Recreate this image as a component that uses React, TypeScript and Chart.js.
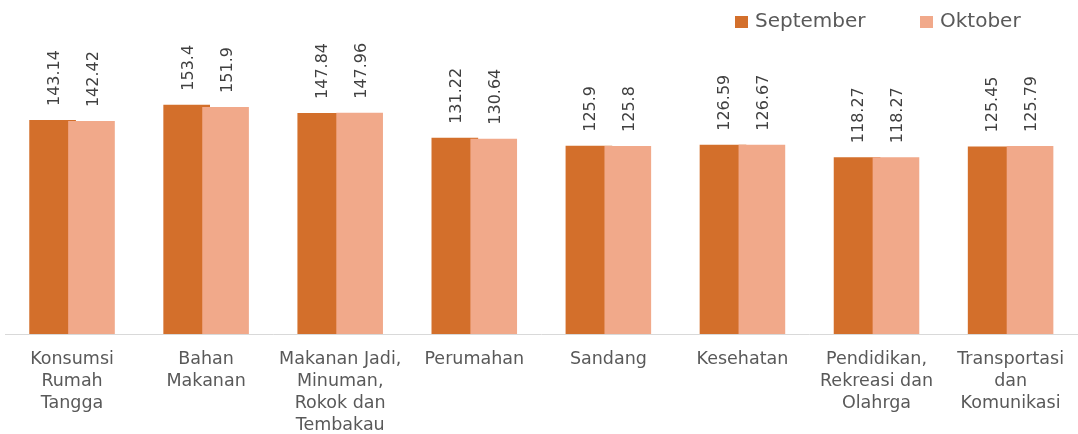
import React, { useEffect, useRef } from "react";
import { Chart, registerables } from "chart.js";

Chart.register(...registerables);

const categories: string[][] = [
  ["Konsumsi", "Rumah", "Tangga"],
  ["Bahan", "Makanan"],
  ["Makanan Jadi,", "Minuman,", "Rokok dan", "Tembakau"],
  ["Perumahan"],
  ["Sandang"],
  ["Kesehatan"],
  ["Pendidikan,", "Rekreasi dan", "Olahrga"],
  ["Transportasi", "dan", "Komunikasi"],
];
const september = [143.14, 153.4, 147.84, 131.22, 125.9, 126.59, 118.27, 125.45];
const oktober = [142.42, 151.9, 147.96, 130.64, 125.8, 126.67, 118.27, 125.79];
const seriesNames = ["September", "Oktober"];
const seriesColors = ["#D36F2B", "#F1A98A"];

const FONT = "'DejaVu Sans', sans-serif";

// draw the first series underneath the second one (Excel-like overlap)
const drawOrder = {
  id: "drawOrder",
  beforeDatasetsDraw(chart: any) {
    const meta = chart.getDatasetMeta(0);
    if (meta && meta.visible !== false) meta.controller.draw();
  },
  beforeDatasetDraw(chart: any, args: any) {
    if (args.index === 0) return false;
    return true;
  },
};

const valueLabels = {
  id: "valueLabels",
  afterDatasetsDraw(chart: any) {
    const ctx = chart.ctx;
    ctx.save();
    ctx.font = `16px ${FONT}`;
    ctx.fillStyle = "#404040";
    ctx.textAlign = "left";
    ctx.textBaseline = "middle";
    chart.data.datasets.forEach((ds: any, i: number) => {
      const meta = chart.getDatasetMeta(i);
      meta.data.forEach((bar: any, j: number) => {
        ctx.save();
        ctx.translate(bar.x, bar.y - 14);
        ctx.rotate(-Math.PI / 2);
        ctx.fillText(String(ds.data[j]), 0, 2);
        ctx.restore();
      });
    });
    ctx.restore();
  },
};

const customLegend = {
  id: "customLegend",
  afterDraw(chart: any) {
    const ctx = chart.ctx;
    ctx.save();
    ctx.font = `20px ${FONT}`;
    ctx.textBaseline = "middle";
    ctx.textAlign = "left";
    let x = chart.width - 343;
    const y = 22;
    chart.data.datasets.forEach((ds: any) => {
      ctx.fillStyle = ds.backgroundColor;
      ctx.fillRect(x, y - 6, 13, 12);
      ctx.fillStyle = "#595959";
      ctx.fillText(ds.label, x + 20, y);
      x += 185;
    });
    ctx.restore();
  },
};

export default function App() {
  const ref = useRef<HTMLCanvasElement | null>(null);
  useEffect(() => {
    if (!ref.current) return;
    const chart = new Chart(ref.current, {
      type: "bar",
      data: {
        labels: categories,
        datasets: [
          { label: seriesNames[0], data: september, backgroundColor: seriesColors[0], borderWidth: 0 },
          { label: seriesNames[1], data: oktober, backgroundColor: seriesColors[1], borderWidth: 0 },
        ],
      },
      options: {
        animation: false,
        responsive: true,
        maintainAspectRatio: false,
        datasets: { bar: { barPercentage: 1.2, categoryPercentage: 0.58 } } as any,
        layout: { padding: { top: 35, left: 5, right: 0, bottom: 0 } },
        plugins: { legend: { display: false }, tooltip: { enabled: false } },
        scales: {
          x: {
            grid: { display: false, drawTicks: false },
            border: { display: true, color: "#d9d9d9", width: 1 },
            ticks: {
              color: "#595959",
              font: { family: FONT, size: 17.5, lineHeight: "22px" } as any,
              padding: 14,
              maxRotation: 0,
              autoSkip: false,
            },
          },
          y: { display: false, min: 0, max: 200 },
        },
      },
      plugins: [drawOrder, valueLabels, customLegend],
    });
    return () => chart.destroy();
  }, []);
  return (
    <div style={{ position: "absolute", left: 0, top: 0, width: 1078, height: 450 }}>
      <canvas ref={ref} />
    </div>
  );
}
